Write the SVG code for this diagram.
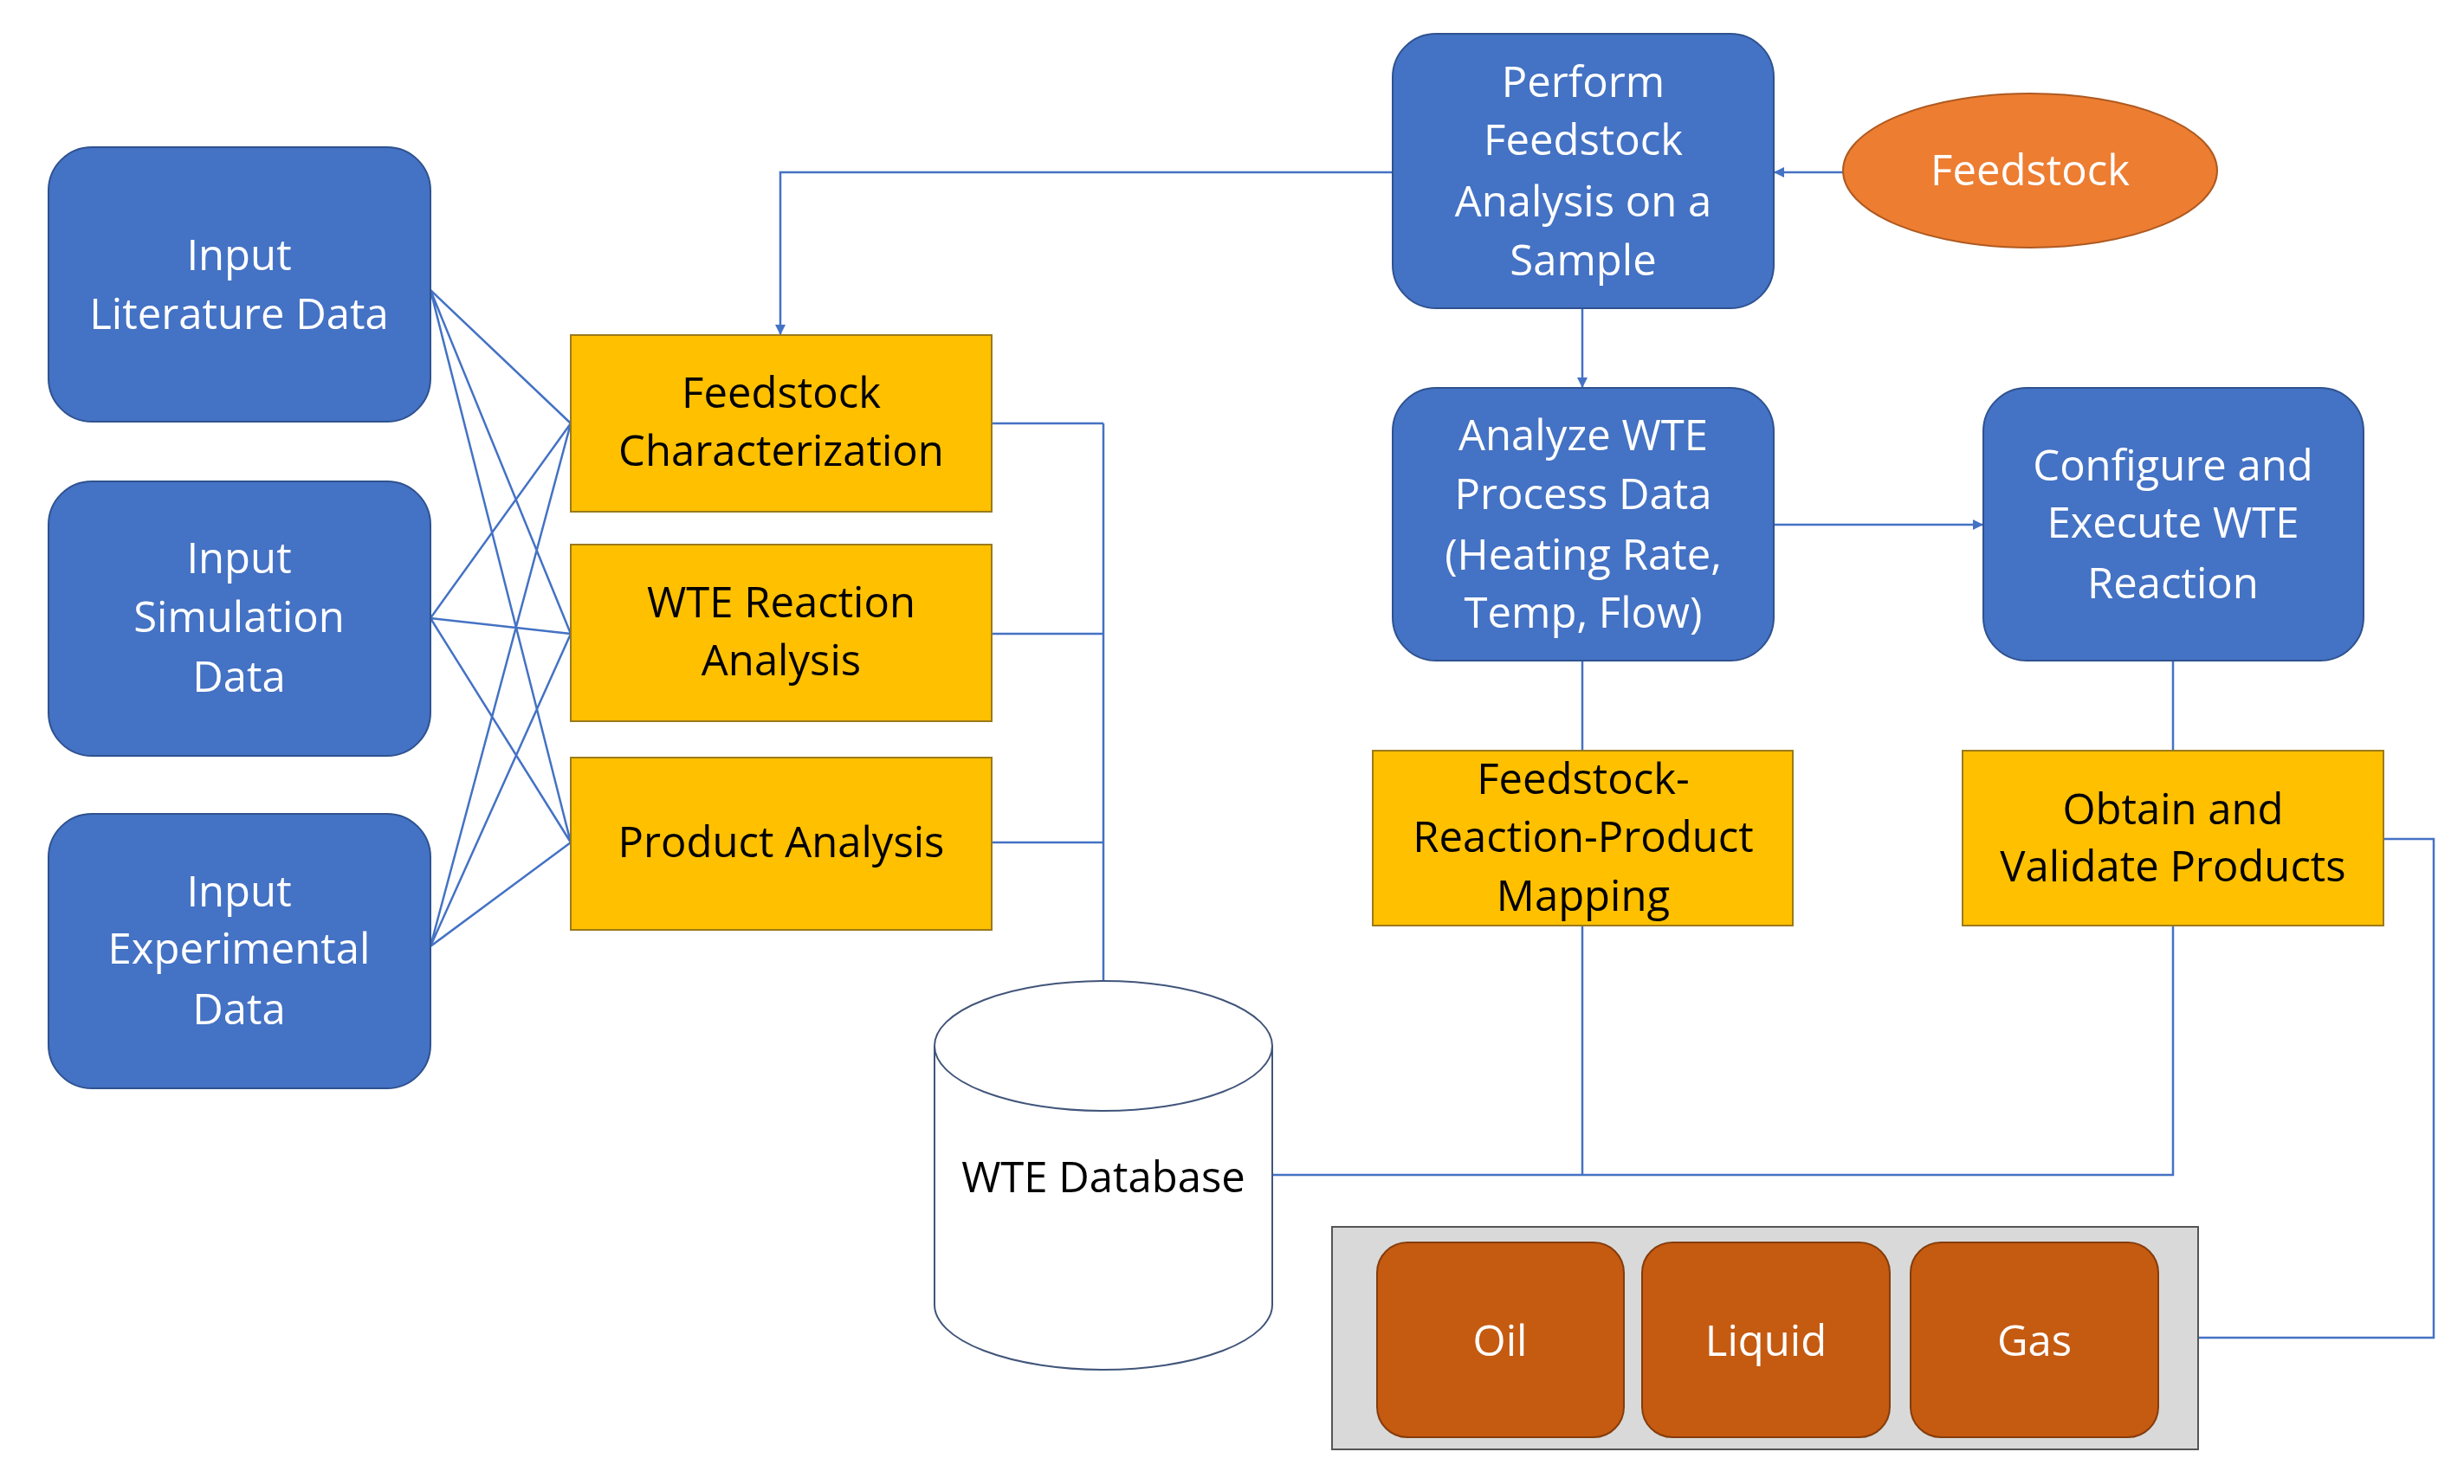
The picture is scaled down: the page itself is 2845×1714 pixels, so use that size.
<svg xmlns="http://www.w3.org/2000/svg" width="2845" height="1714" viewBox="0 0 2845 1714">
<style>
.b{fill:#4472C4;stroke:#2F528F;stroke-width:2}
.y{fill:#FFC000;stroke:#9C7A1A;stroke-width:2}
.p{fill:#C55A11;stroke:#843C0C;stroke-width:2}
.tw{font-family:"Open Sans","Liberation Sans",sans-serif;font-size:49px;fill:#fff;text-anchor:middle}
.tb{font-family:"Open Sans","Liberation Sans",sans-serif;font-size:49px;fill:#000;text-anchor:middle}
.c{fill:none;stroke:#4472C4;stroke-width:2.5}
</style>
<defs><marker id="a" markerWidth="12" markerHeight="12" refX="11" refY="6" orient="auto" markerUnits="userSpaceOnUse"><path d="M0,0 L12,6 L0,12 z" fill="#4472C4"/></marker></defs>
<g id="connectors" class="c">
<path d="M497,335L659,489M497,335L659,732M497,335L659,973M497,714L659,489M497,714L659,732M497,714L659,973M497,1093L659,489M497,1093L659,732M497,1093L659,973"/>
<path d="M1145,489H1274M1145,732H1274M1145,973H1274M1274,489V1133"/>
<path d="M1608,199H901V386" marker-end="url(#a)"/>
<path d="M2128,199H2049" marker-end="url(#a)"/>
<path d="M1827,356V447" marker-end="url(#a)"/>
<path d="M2048,606H2289" marker-end="url(#a)"/>
<path d="M1827,763V867M2509,763V867"/>
<path d="M1469,1357H2509V1069M1827,1069V1357"/>
<path d="M2752,969H2810V1545H2538"/>
</g>
<g id="lit"><rect class="b" x="56" y="170" width="441" height="317" rx="50"/><text class="tw" x="276" y="312">Input</text><text class="tw" x="276" y="380">Literature Data</text></g>
<g id="sim"><rect class="b" x="56" y="556" width="441" height="317" rx="50"/><text class="tw" x="276" y="662">Input</text><text class="tw" x="276" y="730">Simulation</text><text class="tw" x="276" y="799">Data</text></g>
<g id="exp"><rect class="b" x="56" y="940" width="441" height="317" rx="50"/><text class="tw" x="276" y="1047">Input</text><text class="tw" x="276" y="1113">Experimental</text><text class="tw" x="276" y="1183">Data</text></g>
<g id="fc"><rect class="y" x="659" y="387" width="486" height="204"/><text class="tb" x="902" y="471">Feedstock</text><text class="tb" x="902" y="538">Characterization</text></g>
<g id="wra"><rect class="y" x="659" y="629" width="486" height="204"/><text class="tb" x="902" y="713">WTE Reaction</text><text class="tb" x="902" y="780">Analysis</text></g>
<g id="pa"><rect class="y" x="659" y="875" width="486" height="199"/><text class="tb" x="902" y="990">Product Analysis</text></g>
<g id="db"><path d="M1079,1208V1507A195,75 0 0 0 1469,1507V1208A195,75 0 0 0 1079,1208A195,75 0 0 0 1469,1208" fill="#fff" stroke="#41557A" stroke-width="2"/><text class="tb" x="1274" y="1377" font-size="48">WTE Database</text></g>
<g id="perform"><rect class="b" x="1608" y="39" width="440" height="317" rx="50"/><text class="tw" x="1828" y="112">Perform</text><text class="tw" x="1828" y="179">Feedstock</text><text class="tw" x="1828" y="250">Analysis on a</text><text class="tw" x="1828" y="318">Sample</text></g>
<g id="feedstock"><ellipse cx="2344" cy="197" rx="216" ry="89" fill="#ED7D31" stroke="#AE5A21" stroke-width="2"/><text class="tw" x="2344" y="214">Feedstock</text></g>
<g id="analyze"><rect class="b" x="1608" y="448" width="440" height="315" rx="50"/><text class="tw" x="1828" y="520">Analyze WTE</text><text class="tw" x="1828" y="588">Process Data</text><text class="tw" x="1828" y="658">(Heating Rate,</text><text class="tw" x="1828" y="725">Temp, Flow)</text></g>
<g id="configure"><rect class="b" x="2290" y="448" width="439" height="315" rx="50"/><text class="tw" x="2509" y="555">Configure and</text><text class="tw" x="2509" y="621">Execute WTE</text><text class="tw" x="2509" y="691">Reaction</text></g>
<g id="mapping"><rect class="y" x="1585" y="867" width="485" height="202"/><text class="tb" x="1828" y="917">Feedstock-</text><text class="tb" x="1828" y="984">Reaction-Product</text><text class="tb" x="1828" y="1052">Mapping</text></g>
<g id="obtain"><rect class="y" x="2266" y="867" width="486" height="202"/><text class="tb" x="2509" y="952">Obtain and</text><text class="tb" x="2509" y="1018">Validate Products</text></g>
<g id="products"><rect x="1538" y="1417" width="1000" height="257" fill="#D9D9D9" stroke="#555" stroke-width="2"/></g>
<g id="oil"><rect class="p" x="1590" y="1435" width="285" height="225" rx="35"/><text class="tw" x="1732" y="1566">Oil</text></g>
<g id="liquid"><rect class="p" x="1896" y="1435" width="286" height="225" rx="35"/><text class="tw" x="2039" y="1566">Liquid</text></g>
<g id="gas"><rect class="p" x="2206" y="1435" width="286" height="225" rx="35"/><text class="tw" x="2349" y="1566">Gas</text></g>
</svg>
